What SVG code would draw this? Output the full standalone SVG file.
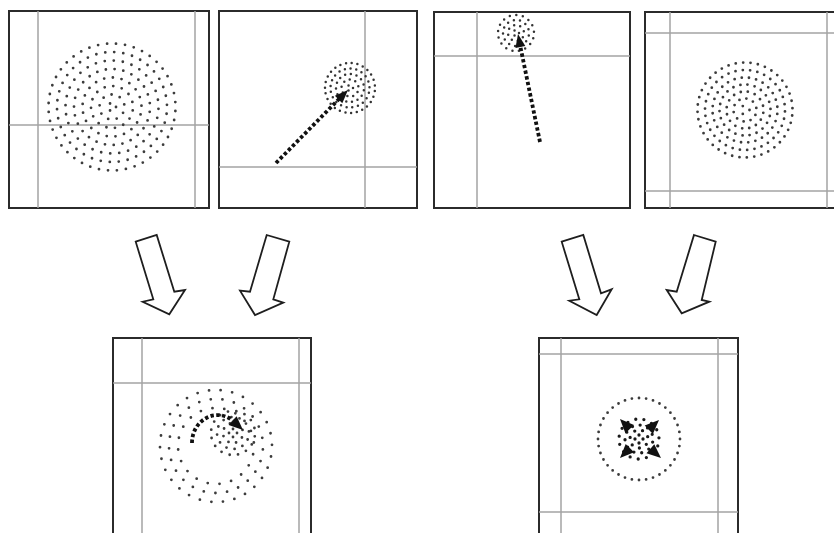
<svg xmlns="http://www.w3.org/2000/svg" width="834" height="533" viewBox="0 0 834 533">
<style>
.frame{fill:#fff;stroke:#2b2b2b;stroke-width:2}
.grid{stroke:#a3a3a3;stroke-width:1.5;fill:none}
.d{fill:none;stroke:#3c3c3c;stroke-width:2.8;stroke-linecap:round;stroke-dasharray:0 1}
.ds{fill:none;stroke:#333;stroke-width:2.5;stroke-linecap:round;stroke-dasharray:0 1}
.dk{fill:none;stroke:#1a1a1a;stroke-width:3.3;stroke-linecap:round;stroke-dasharray:0 1}
.trail{fill:none;stroke:#111;stroke-width:3.8;stroke-dasharray:3.4 2.4}
.head{fill:#111}
.ba{fill:#fff;stroke:#1e1e1e;stroke-width:1.8;stroke-linejoin:miter}
</style>
<rect width="834" height="533" fill="#fff"/>

<g id="p1">
  <rect class="frame" x="9" y="11" width="200" height="197"/>
  <line class="grid" x1="38" y1="11" x2="38" y2="208"/>
  <line class="grid" x1="195" y1="11" x2="195" y2="208"/>
  <line class="grid" x1="9" y1="125" x2="209" y2="125"/>
  <g transform="translate(112,107)">
    <circle class="d" r="4" pathLength="3"/>
    <circle class="d" r="12.5" pathLength="9" stroke-dashoffset="0.3"/>
    <circle class="d" r="21" pathLength="15" stroke-dashoffset="0.6"/>
    <circle class="d" r="29.5" pathLength="21" stroke-dashoffset="0.15"/>
    <circle class="d" r="38" pathLength="27" stroke-dashoffset="0.45"/>
    <circle class="d" r="46.5" pathLength="32" stroke-dashoffset="0.8"/>
    <circle class="d" r="55" pathLength="38" stroke-dashoffset="0.25"/>
    <circle class="d" r="63.5" pathLength="44" stroke-dashoffset="0.55"/>
  </g>
</g>

<g id="p2">
  <rect class="frame" x="219" y="11" width="198" height="197"/>
  <line class="grid" x1="365" y1="11" x2="365" y2="208"/>
  <line class="grid" x1="219" y1="167" x2="417" y2="167"/>
  <g transform="translate(350,88)">
    <circle class="ds" r="3" pathLength="3"/>
    <circle class="ds" r="8.5" pathLength="9" stroke-dashoffset="0.3"/>
    <circle class="ds" r="14" pathLength="15" stroke-dashoffset="0.6"/>
    <circle class="ds" r="19.5" pathLength="21" stroke-dashoffset="0.15"/>
    <circle class="ds" r="25" pathLength="27" stroke-dashoffset="0.45"/>
  </g>
  <line class="trail" x1="276" y1="163" x2="339" y2="99"/>
  <polygon class="head" points="348,90 342.3,103.2 334.9,95.8"/>
</g>

<g id="p3">
  <rect class="frame" x="434" y="12" width="196" height="196"/>
  <line class="grid" x1="477" y1="12" x2="477" y2="208"/>
  <line class="grid" x1="434" y1="56" x2="630" y2="56"/>
  <g transform="translate(516,33)">
    <circle class="ds" r="3" pathLength="3"/>
    <circle class="ds" r="8" pathLength="8" stroke-dashoffset="0.3"/>
    <circle class="ds" r="13" pathLength="13" stroke-dashoffset="0.6"/>
    <circle class="ds" r="18" pathLength="17" stroke-dashoffset="0.2"/>
  </g>
  <line class="trail" x1="540" y1="142" x2="520.4" y2="46.8"/>
  <polygon class="head" points="518,34 525.3,46 515.5,48"/>
</g>

<g id="p4">
  <rect class="frame" x="645" y="12" width="200" height="196"/>
  <line class="grid" x1="670" y1="12" x2="670" y2="208"/>
  <line class="grid" x1="827" y1="12" x2="827" y2="208"/>
  <line class="grid" x1="645" y1="33" x2="834" y2="33"/>
  <line class="grid" x1="645" y1="191" x2="834" y2="191"/>
  <g transform="translate(745,110)">
    <circle class="d" r="4.5" pathLength="3"/>
    <circle class="d" r="11.5" pathLength="10" stroke-dashoffset="0.3"/>
    <circle class="d" r="18.5" pathLength="16" stroke-dashoffset="0.6"/>
    <circle class="d" r="25.5" pathLength="22" stroke-dashoffset="0.15"/>
    <circle class="d" r="32.5" pathLength="28" stroke-dashoffset="0.45"/>
    <circle class="d" r="40" pathLength="34" stroke-dashoffset="0.8"/>
    <circle class="d" r="47.5" pathLength="40" stroke-dashoffset="0.25"/>
  </g>
</g>

<g id="r1">
  <rect class="frame" x="113" y="338" width="198" height="210"/>
  <line class="grid" x1="142" y1="338" x2="142" y2="548"/>
  <line class="grid" x1="299" y1="338" x2="299" y2="548"/>
  <line class="grid" x1="113" y1="383" x2="311" y2="383"/>
  <g transform="translate(216,446)">
    <circle class="d" r="38" pathLength="20" stroke-dashoffset="0.3"/>
    <circle class="d" r="47" pathLength="25" stroke-dashoffset="0.7"/>
    <circle class="d" r="56" pathLength="30" stroke-dashoffset="0.1"/>
  </g>
  <g transform="translate(233,433)">
    <circle class="d" r="4" pathLength="4"/>
    <circle class="d" r="10" pathLength="8" stroke-dashoffset="0.4"/>
    <circle class="d" r="16" pathLength="12" stroke-dashoffset="0.2"/>
    <circle class="d" r="22" pathLength="16" stroke-dashoffset="0.6"/>
  </g>
  <path class="trail" d="M192,443 C192,420 216,407 232.6,420.6"/>
  <polygon class="head" points="243,430 228.6,425 236.6,416.2"/>
</g>

<g id="r2">
  <rect class="frame" x="539" y="338" width="199" height="210"/>
  <line class="grid" x1="561" y1="338" x2="561" y2="548"/>
  <line class="grid" x1="718" y1="338" x2="718" y2="548"/>
  <line class="grid" x1="539" y1="354" x2="738" y2="354"/>
  <line class="grid" x1="539" y1="512" x2="738" y2="512"/>
  <circle class="d" cx="639" cy="439" r="41" pathLength="36"/>
  <g transform="translate(639,439)">
    <circle class="dk" r="4" pathLength="4"/>
    <circle class="dk" r="9" pathLength="7" stroke-dashoffset="0.3"/>
    <circle class="dk" r="14" pathLength="11" stroke-dashoffset="0.6"/>
    <circle class="dk" r="20" pathLength="15" stroke-dashoffset="0.15"/>
  </g>
  <polygon class="head" points="620,419 634,425 625.4,433.2"/>
  <polygon class="head" points="659,420 652.9,434.1 644.7,425.4"/>
  <polygon class="head" points="620,458 634.1,452.3 625.7,443.9"/>
  <polygon class="head" points="661,458 646.5,453.3 654.3,444.3"/>
</g>

<g id="connectors">
  <polygon class="ba" points="135.7,241.7 156.7,235 174.3,291.7 185,290 169.3,314.3 142.7,301.7 153.3,299.3"/>
  <polygon class="ba" points="266.7,235 289.3,241.7 273.3,299.3 283.3,302.7 255,315 240,290.7 250,291.7"/>
  <polygon class="ba" points="561.7,241.7 583.3,235 601,293.3 611.7,289.3 596.7,315 569.3,300.7 579.3,299.3"/>
  <polygon class="ba" points="694,235 715.7,241.7 701.7,300 709.3,301.7 681.7,313.3 666.7,290 676.7,291.7"/>
</g>
</svg>
